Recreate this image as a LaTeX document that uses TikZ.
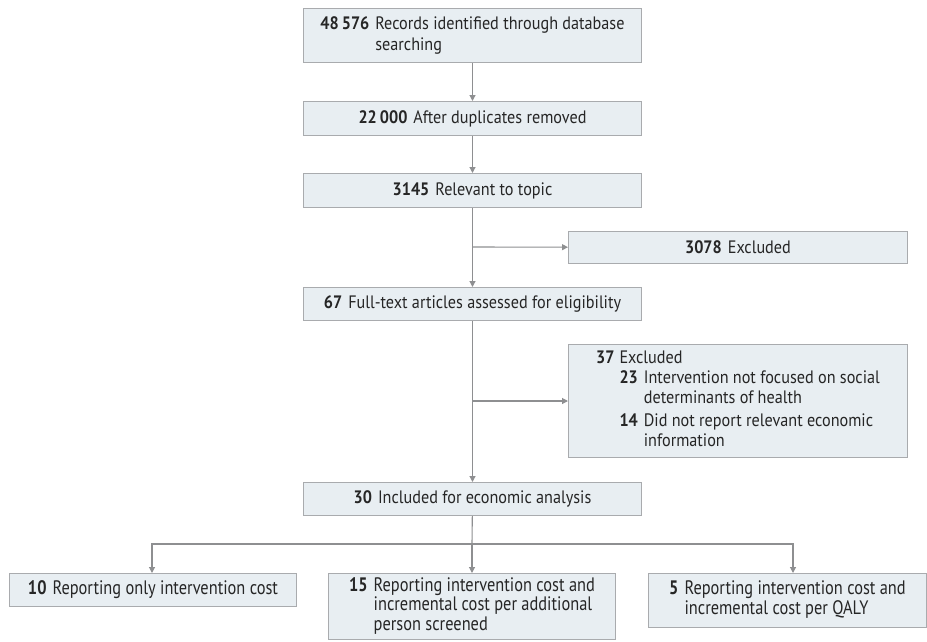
\documentclass[tikz,border=0pt]{standalone}
\usepackage{fontspec}
\setmainfont[FakeStretch=0.9]{PT Sans}
\newfontfamily\narrowfont[FakeStretch=0.84]{PT Sans}
\usetikzlibrary{arrows.meta}

\definecolor{boxfill}{HTML}{E8EEF2}
\definecolor{boxline}{HTML}{A9ABAE}
\definecolor{flowline}{HTML}{8E8F91}
\definecolor{boxtext}{HTML}{262626}

\tikzset{
  box/.style={rectangle, draw=boxline, fill=boxfill, line width=1pt, inner sep=0pt,
    anchor=north west, align=center, text=boxtext, font=\fontsize{18}{21}\selectfont},
  narrowbox/.style={box, font=\narrowfont\fontsize{19.5}{19}\selectfont},
  flow/.style={draw=flowline, line width=1.1pt},
  arr/.style={flow, -{Triangle[length=6pt,width=6pt]}},
}
\newcommand{\nb}[1]{\textbf{#1}\hskip 6pt}

\begin{document}
\begin{tikzpicture}[x=1pt,y=-1pt]
    \useasboundingbox (0,0) rectangle (927,641);

    % Main column
    \node[box, minimum width=338, minimum height=54] (records) at (303,8)
      {\begin{tabular}{@{}l@{\hskip6pt}l@{}}\textbf{48\,576} & Records identified through database\\ & searching\end{tabular}};
    \node[box, minimum width=338, minimum height=34] (dupl) at (303,101)
      {\nb{22\,000}After duplicates removed};
    \node[box, minimum width=338, minimum height=34] (topic) at (303,173)
      {\nb{3145}Relevant to topic};
    \node[box, minimum width=338, minimum height=33] (fulltext) at (303,287)
      {\nb{67}Full-text articles assessed for eligibility};
    \node[box, minimum width=338, minimum height=33] (included) at (303,482)
      {\nb{30}Included for economic analysis};

    % Exclusions
    \node[box, minimum width=339, minimum height=32] (excl) at (568,231)
      {\nb{3078}Excluded};
    \node[box, minimum width=339, minimum height=113, font=\fontsize{18}{19.5}\selectfont] (exclft) at (568,344)
      {\begin{tabular}{@{}l@{\hskip5pt}r@{\hskip6pt}l@{}}
        \textbf{37} & \multicolumn{2}{@{}l}{Excluded}\\[1pt]
        & \textbf{23} & Intervention not focused on social\\
        & & determinants of health\\[4pt]
        & \textbf{14} & Did not report relevant economic\\
        & & information
      \end{tabular}};

    % Outcome boxes
    \node[narrowbox, minimum width=287, minimum height=33] (costonly) at (9,573)
      {\nb{10}Reporting only intervention cost};
    \node[narrowbox, minimum width=287, minimum height=66] (screened) at (328,573)
      {\begin{tabular}{@{}l@{\hskip6pt}l@{}}\textbf{15} & Reporting intervention cost and\\ & incremental cost per additional\\ & person screened\end{tabular}};
    \node[narrowbox, minimum width=278, minimum height=54] (qaly) at (648,573)
      {\begin{tabular}{@{}l@{\hskip6pt}l@{}}\textbf{5} & Reporting intervention cost and\\ & incremental cost per QALY\end{tabular}};

    % Connectors
    \coordinate (split1) at (472,247);
    \coordinate (split2) at (472,401);
    \coordinate (split3) at (472,544);
    \draw[arr] (records) -- (dupl);
    \draw[arr] (dupl) -- (topic);
    \draw[arr] (topic) -- (fulltext);
    \draw[arr] (split1) -- (excl);
    \draw[arr] (fulltext) -- (included);
    \draw[arr] (split2) -- (exclft);
    \draw[flow] (included) -- (split3);
    \draw[arr] (split3) -| (costonly.north -| 152,0);
    \draw[arr] (split3) -- (screened);
    \draw[arr] (split3) -| (qaly.north -| 793,0);
\end{tikzpicture}
\end{document}
